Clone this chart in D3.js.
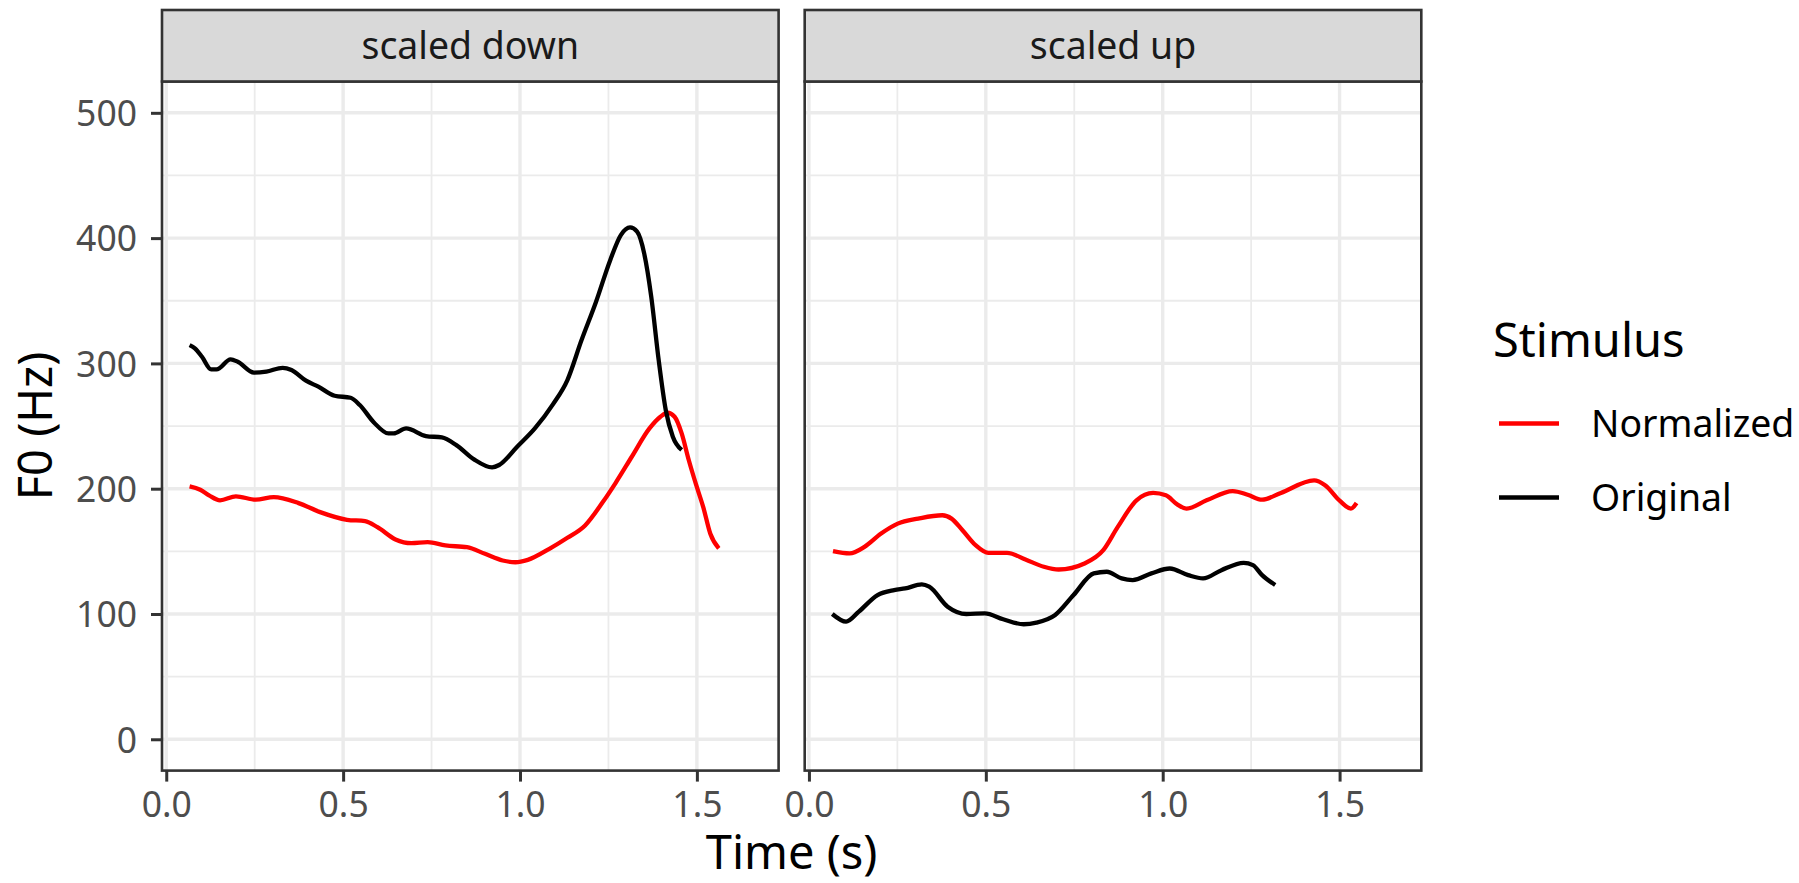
<!DOCTYPE html>
<html><head><meta charset="utf-8">
<script src="https://cdn.jsdelivr.net/npm/d3@7"></script>
<style>body{margin:0;background:#fff} text{font-family:"Noto Sans",sans-serif}</style>
</head><body><svg id="c" width="1799" height="883"></svg>
<script>
const facetLabels = ["scaled down", "scaled up"];
const stimulusLabels = ["Normalized", "Original"];
const xTicks = [0, 0.5, 1.0, 1.5];
const xMinor = [0.25, 0.75, 1.25];
const yTicks = [0, 100, 200, 300, 400, 500];
const yMinor = [50, 150, 250, 350, 450];

// scaled down – Normalized
const downNormT  = [0.066,0.096,0.121,0.152,0.197,0.253,0.304,0.374,0.435,0.511,0.562,0.597,0.648,0.693,0.739,0.789,0.850,0.901,0.951,0.987,1.022,1.083,1.134,1.184,1.234,1.270,1.316,1.366,1.397,1.417,1.437,1.457,1.477,1.498,1.518,1.538,1.562];
const downNormF0 = [201.9,199.2,194.7,190.7,193.9,191.2,193.3,188.5,181.3,175.2,174.1,169.3,159.5,156.5,157.3,154.7,153.3,148.0,142.7,141.3,143.2,152.0,160.8,170.7,189.3,204.5,225.5,248.1,257.4,260.6,257.4,244.1,222.9,203.0,185.3,164.0,152.4];
// scaled down – Original
const downOrigT  = [0.066,0.081,0.101,0.127,0.142,0.182,0.202,0.248,0.283,0.329,0.354,0.395,0.430,0.476,0.521,0.547,0.587,0.628,0.643,0.678,0.734,0.779,0.820,0.870,0.921,0.941,0.992,1.042,1.093,1.134,1.174,1.215,1.255,1.285,1.311,1.331,1.351,1.371,1.392,1.412,1.432,1.457];
const downOrigF0 = [314.6,312.0,305.3,295.2,295.2,303.2,301.3,292.6,293.4,296.5,294.7,286.2,281.4,274.2,272.6,266.8,252.9,244.1,244.1,248.1,242.0,240.9,234.8,223.4,217.0,218.9,233.5,248.1,267.3,286.7,318.6,349.2,382.4,402.4,408.5,405.1,387.8,353.2,302.7,262.8,241.5,230.9];
// scaled up – Normalized
const upNormT  = [0.068,0.115,0.157,0.204,0.251,0.309,0.377,0.403,0.434,0.471,0.507,0.560,0.612,0.664,0.706,0.779,0.832,0.873,0.926,0.973,1.009,1.041,1.067,1.124,1.198,1.240,1.281,1.334,1.428,1.459,1.501,1.532,1.548];
const upNormF0 = [150.1,148.3,153.6,164.2,172.1,176.1,178.8,176.1,166.8,154.9,148.8,148.8,143.5,137.7,135.5,140.3,150.9,169.5,190.7,196.6,194.7,187.5,184.1,190.7,198.1,195.2,191.2,196.6,206.6,202.7,190.2,184.1,188.6];
// scaled up – Original
const upOrigT  = [0.066,0.105,0.141,0.194,0.241,0.272,0.319,0.340,0.392,0.445,0.497,0.549,0.607,0.643,0.696,0.748,0.805,0.842,0.884,0.915,0.968,1.020,1.072,1.114,1.166,1.229,1.255,1.281,1.318];
const upOrigF0 = [100.0,93.9,101.9,115.1,119.1,120.4,123.6,121.8,105.8,100.0,100.5,95.8,91.8,93.1,99.2,115.1,132.4,133.7,128.4,127.1,132.4,136.3,131.0,128.4,135.0,140.8,139.0,131.0,123.1];

const seriesByFacet = [
  [{name: "Normalized", t: downNormT, f: downNormF0}, {name: "Original", t: downOrigT, f: downOrigF0}],
  [{name: "Normalized", t: upNormT, f: upNormF0}, {name: "Original", t: upOrigT, f: upOrigF0}]
];

const colour = d3.scaleOrdinal().domain(stimulusLabels).range(["#FF0000", "#000000"]);

const svg = d3.select("#c");
const panelLefts = [162, 804.7];
const panelW = 616.6;
const panelTop = 81.5, panelBottom = 770.6, stripTop = 10;

const y = d3.scaleLinear().domain([-25, 525]).range([panelBottom, panelTop]);

facetLabels.forEach((lab, i) => {
  const x0 = panelLefts[i];
  const x = d3.scaleLinear().domain([-0.012, 1.731]).range([x0, x0 + panelW]);
  const g = svg.append("g");
  g.append("rect").attr("x", x0).attr("y", panelTop).attr("width", panelW).attr("height", panelBottom - panelTop).attr("fill", "#fff");
  g.selectAll(".vmin").data(xMinor).enter().append("line")
    .attr("x1", d => x(d)).attr("x2", d => x(d)).attr("y1", panelTop).attr("y2", panelBottom)
    .attr("stroke", "#EBEBEB").attr("stroke-width", 1.8);
  g.selectAll(".hmin").data(yMinor).enter().append("line")
    .attr("y1", d => y(d)).attr("y2", d => y(d)).attr("x1", x0).attr("x2", x0 + panelW)
    .attr("stroke", "#EBEBEB").attr("stroke-width", 1.8);
  g.selectAll(".vmaj").data(xTicks).enter().append("line")
    .attr("x1", d => x(d)).attr("x2", d => x(d)).attr("y1", panelTop).attr("y2", panelBottom)
    .attr("stroke", "#EBEBEB").attr("stroke-width", 3.4);
  g.selectAll(".hmaj").data(yTicks).enter().append("line")
    .attr("y1", d => y(d)).attr("y2", d => y(d)).attr("x1", x0).attr("x2", x0 + panelW)
    .attr("stroke", "#EBEBEB").attr("stroke-width", 3.4);
  const line = d3.line().x(d => x(d[0])).y(d => y(d[1])).curve(d3.curveMonotoneX);
  seriesByFacet[i].forEach(s => {
    const pts = s.t.map((t, k) => [t, s.f[k]]);
    g.append("path").attr("d", line(pts)).attr("fill", "none")
      .attr("stroke", colour(s.name)).attr("stroke-width", 4.3)
      .attr("stroke-linejoin", "round").attr("stroke-linecap", "butt");
  });
  g.append("rect").attr("x", x0).attr("y", panelTop).attr("width", panelW).attr("height", panelBottom - panelTop)
    .attr("fill", "none").attr("stroke", "#333333").attr("stroke-width", 2.6);
  g.append("rect").attr("x", x0).attr("y", stripTop).attr("width", panelW).attr("height", panelTop - stripTop)
    .attr("fill", "#D9D9D9").attr("stroke", "#333333").attr("stroke-width", 2.6);
  g.append("text").attr("x", x0 + panelW / 2).attr("y", 58.5).attr("text-anchor", "middle")
    .attr("font-size", 37.4).attr("fill", "#1A1A1A").text(lab);
  const xa = svg.append("g").attr("transform", `translate(0,${panelBottom})`)
    .call(d3.axisBottom(x).tickValues(xTicks).tickFormat(d3.format(".1f")).tickSize(11).tickPadding(10));
  xa.select(".domain").remove();
  xa.selectAll(".tick line").attr("stroke", "#333333").attr("stroke-width", 3);
  xa.selectAll(".tick text").attr("font-size", 35.5).attr("fill", "#4D4D4D")
    .attr("font-family", "'Noto Sans', sans-serif").attr("dy", "0.71em");
});

const ya = svg.append("g").attr("transform", `translate(${panelLefts[0]},0)`)
  .call(d3.axisLeft(y).tickValues(yTicks).tickFormat(d3.format("d")).tickSize(11).tickPadding(14));
ya.select(".domain").remove();
ya.selectAll(".tick line").attr("stroke", "#333333").attr("stroke-width", 3);
ya.selectAll(".tick text").attr("font-size", 35.5).attr("fill", "#4D4D4D")
  .attr("font-family", "'Noto Sans', sans-serif").attr("dy", "0.36em");

svg.append("text").attr("x", (panelLefts[0] + panelLefts[1] + panelW) / 2).attr("y", 869)
  .attr("text-anchor", "middle").attr("font-size", 47).attr("fill", "#000").text("Time (s)");
svg.append("text").attr("transform", `translate(52,${(panelTop + panelBottom) / 2}) rotate(-90)`)
  .attr("text-anchor", "middle").attr("font-size", 47).attr("fill", "#000").text("F0 (Hz)");

svg.append("text").attr("x", 1493).attr("y", 357).attr("font-size", 47).attr("fill", "#000").text("Stimulus");
const keyY = [423.5, 497.5];
stimulusLabels.forEach((s, k) => {
  svg.append("line").attr("x1", 1499).attr("x2", 1559).attr("y1", keyY[k]).attr("y2", keyY[k])
    .attr("stroke", colour(s)).attr("stroke-width", 4.3);
  svg.append("text").attr("x", 1591).attr("y", keyY[k] + 13).attr("font-size", 37.4).attr("fill", "#000").text(s);
});
</script></body></html>
